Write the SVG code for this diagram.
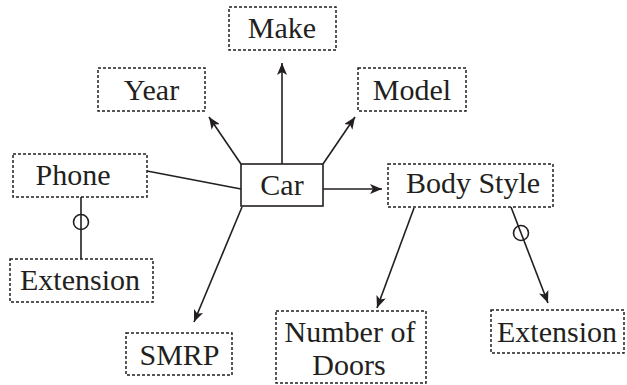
<svg xmlns="http://www.w3.org/2000/svg" width="627" height="385" viewBox="0 0 627 385">
<defs>
<marker id="arr" viewBox="0 0 12 10" refX="12" refY="5" markerWidth="12" markerHeight="10" markerUnits="userSpaceOnUse" orient="auto">
<path d="M0,0 L12,5 L0,10 L3,5 Z" fill="#231f20"/>
</marker>
</defs>
<style>
.att{fill:#fff;stroke:#231f20;stroke-width:1.5;stroke-dasharray:3 2}
.ent{fill:#fff;stroke:#231f20;stroke-width:1.6}
.t{font-family:"Times New Roman","Liberation Serif",serif;font-size:30px;fill:#231f20;text-anchor:middle}
.c{fill:none;stroke:#231f20;stroke-width:1.6}
.a{marker-end:url(#arr)}
</style>
<rect width="627" height="385" fill="#fff"/>
<g id="connectors">
<line class="c a" x1="282" y1="164" x2="282" y2="63"/>
<line class="c a" x1="241" y1="164" x2="209" y2="117"/>
<line class="c a" x1="323" y1="164" x2="355" y2="117"/>
<line class="c" x1="147" y1="171" x2="241" y2="189"/>
<line class="c a" x1="323" y1="189" x2="382" y2="189"/>
<line class="c a" x1="242" y1="207" x2="194" y2="322"/>
<line class="c" x1="81" y1="197" x2="81" y2="259"/>
<circle class="c" cx="81" cy="222" r="7.5"/>
<line class="c a" x1="414" y1="208" x2="377" y2="308"/>
<line class="c a" x1="511" y1="207" x2="548" y2="303"/>
<circle class="c" cx="521" cy="233" r="7.5"/>
</g>
<g id="make"><rect class="att" x="229" y="7" width="107" height="43"/><text class="t" x="282" y="38">Make</text></g>
<g id="year"><rect class="att" x="98" y="68" width="107" height="43"/><text class="t" x="151.5" y="100">Year</text></g>
<g id="model"><rect class="att" x="358" y="68" width="108" height="43"/><text class="t" x="412" y="100">Model</text></g>
<g id="phone"><rect class="att" x="13" y="154" width="134" height="43"/><text class="t" x="73" y="185">Phone</text></g>
<g id="car"><rect class="ent" x="241" y="164" width="82" height="42"/><text class="t" x="282" y="195">Car</text></g>
<g id="bodystyle"><rect class="att" x="388" y="164" width="165" height="43"/><text class="t" x="473" y="193">Body Style</text></g>
<g id="phone-extension"><rect class="att" x="10" y="259" width="143" height="43"/><text class="t" x="80" y="290">Extension</text></g>
<g id="smrp"><rect class="att" x="126" y="333" width="106" height="42"/><text class="t" x="179.5" y="365">SMRP</text></g>
<g id="doors"><rect class="att" x="276" y="311" width="150" height="72"/><text class="t" x="350" y="342">Number of</text><text class="t" x="349" y="375">Doors</text></g>
<g id="body-extension"><rect class="att" x="491" y="310" width="133" height="43"/><text class="t" x="557" y="342">Extension</text></g>
</svg>
